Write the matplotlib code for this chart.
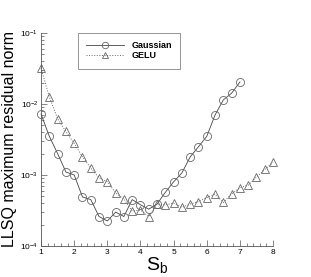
import matplotlib.pyplot as plt
import numpy as np
from matplotlib.ticker import LogLocator, MultipleLocator, NullFormatter

plt.rcParams['font.family'] = ['Liberation Sans', 'DejaVu Sans']
plt.rcParams['mathtext.fontset'] = 'custom'
plt.rcParams['mathtext.rm'] = 'Liberation Sans'

# S_b values (step 0.25)
sb_gauss = np.arange(1.0, 7.01, 0.25)
sb_gelu = np.arange(1.0, 8.01, 0.25)

# residual norms
res_gauss = [7.2e-3, 3.5e-3, 2.0e-3, 1.1e-3, 1.0e-3, 4.9e-4, 4.5e-4, 2.6e-4,
             2.25e-4, 3.0e-4, 2.6e-4, 4.5e-4, 3.8e-4, 3.3e-4, 3.9e-4, 5.7e-4,
             8.0e-4, 1.07e-3, 1.8e-3, 2.5e-3, 3.5e-3, 7.0e-3, 1.14e-2, 1.42e-2,
             2.04e-2]
res_gelu = [3.2e-2, 1.26e-2, 6.2e-3, 4.1e-3, 2.8e-3, 1.8e-3, 1.25e-3, 9.1e-4,
            8.0e-4, 5.6e-4, 4.6e-4, 3.1e-4, 3.2e-4, 2.6e-4, 3.9e-4, 3.8e-4,
            4.0e-4, 3.5e-4, 3.9e-4, 4.2e-4, 4.8e-4, 5.4e-4, 4.1e-4, 5.4e-4,
            6.6e-4, 7.2e-4, 9.3e-4, 1.2e-3, 1.5e-3]

fig = plt.figure(figsize=(3.11, 2.77), dpi=100)
ax = fig.add_axes([0.132, 0.112, 0.746, 0.769])

ax.plot(sb_gauss, res_gauss, '-', color='#444444', lw=0.6, marker='o', ms=5.8,
        mfc='none', mec='#666666', mew=0.6, label='Gaussian', clip_on=False)
ax.plot(sb_gelu, res_gelu, ':', color='#666666', lw=0.7, marker='^', ms=6,
        mfc='none', mec='#666666', mew=0.6, label='GELU', clip_on=False)

ax.set_yscale('log')
ax.set_xlim(1, 8)
ax.set_ylim(1e-4, 1e-1)
ax.xaxis.set_major_locator(MultipleLocator(1))
ax.xaxis.set_minor_locator(MultipleLocator(0.2))
ax.yaxis.set_major_locator(LogLocator(base=10))
ax.yaxis.set_minor_locator(LogLocator(base=10, subs=np.arange(2, 10)))
ax.yaxis.set_minor_formatter(NullFormatter())

ax.spines['top'].set_visible(False)
ax.spines['right'].set_visible(False)
for s in ('left', 'bottom'):
    ax.spines[s].set_linewidth(0.6)
    ax.spines[s].set_color('#555555')
ax.tick_params(which='both', direction='in', labelsize=6, colors='#555555',
               labelcolor='black', width=0.5)
ax.tick_params(which='major', length=4, pad=2)
ax.tick_params(which='minor', length=2)

ax.set_xlabel('S$_\\mathrm{b}$', fontsize=14, labelpad=0)
ax.set_ylabel('LLSQ maximum residual norm', fontsize=11.5)
ax.yaxis.set_label_coords(-0.105, 0.5)

leg = ax.legend(loc='upper left', bbox_to_anchor=(0.16, 1.0),
                prop={'weight': 'bold', 'size': 6.5}, fancybox=False,
                edgecolor='#666666', handlelength=4.2, borderpad=0.9,
                labelspacing=0.15, handletextpad=0.8, borderaxespad=0,
                markerscale=0.8)
leg.get_frame().set_linewidth(0.6)

fig.savefig('out.png', dpi=100)
